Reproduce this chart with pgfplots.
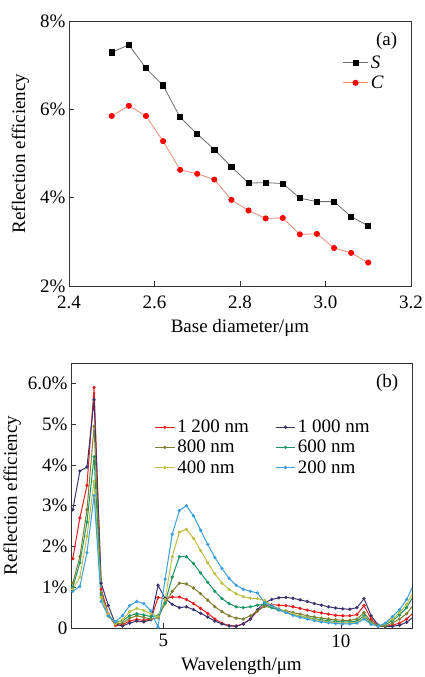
\documentclass[border=0pt]{standalone}
\usepackage{fontspec}
\setmainfont{Liberation Serif}
\usepackage{pgfplots}
\pgfplotsset{compat=1.18}
\definecolor{cA}{RGB}{230,30,30}
\definecolor{cB}{RGB}{60,50,110}
\definecolor{cC}{RGB}{128,128,50}
\definecolor{cD}{RGB}{30,150,100}
\definecolor{cE}{RGB}{190,190,70}
\definecolor{cF}{RGB}{60,160,220}
\definecolor{sline}{RGB}{110,110,110}
\definecolor{cline}{RGB}{240,140,120}
\begin{document}
\begin{tikzpicture}[font=\fontsize{19}{21}\selectfont]
\pgfplotsset{
  every axis/.append style={scale only axis, axis line style={black!80, line width=0.9pt},
    tick style={black!80, line width=0.8pt}, major tick length=5pt,
    xtick pos=bottom, ytick pos=left, tick align=inside,
    ticklabel style={font=\fontsize{19}{21}\selectfont},
    label style={font=\fontsize{19}{21}\selectfont}},
}
% ---------- (a) ----------
\begin{axis}[
  at={(69pt,391pt)}, anchor=south west,
  width=342pt, height=265pt,
  xmin=2.4, xmax=3.2, ymin=2, ymax=8,
  xtick={2.4,2.6,2.8,3.0,3.2}, xticklabels={2.4,2.6,2.8,3.0,3.2},
  ytick={2,4,6,8}, yticklabels={2\%,4\%,6\%,8\%},
  xticklabel style={yshift=-6pt},
  xlabel={Base diameter/μm}, ylabel={Reflection efficiency},
  xlabel style={yshift=-4pt},
  ylabel style={yshift=4pt},
  legend style={draw=none, fill=none, at={(0.79,0.885)}, anchor=north west,
    row sep=2pt, font=\fontsize{19}{21}\selectfont},
  legend image code/.code={\draw[mark repeat=2,mark phase=2] plot coordinates {(0cm,0cm)(0.45cm,0cm)(0.9cm,0cm)};},
  legend cell align=left,
  clip=false,
]
\addplot[sline, line width=0.8pt, mark=square*, mark size=2.6pt, mark options={black, fill=black}]
coordinates {(2.50,7.29)(2.54,7.46)(2.58,6.93)(2.62,6.54)(2.66,5.82)(2.70,5.44)(2.74,5.09)(2.78,4.70)(2.82,4.33)(2.86,4.34)(2.90,4.32)(2.94,3.99)(2.98,3.91)(3.02,3.91)(3.06,3.57)(3.10,3.36)};
\addlegendentry{\textit{S}}
\addplot[cline, line width=0.8pt, mark=*, mark size=2.6pt, mark options={red, fill=red}]
coordinates {(2.50,5.85)(2.54,6.08)(2.58,5.85)(2.62,5.28)(2.66,4.63)(2.70,4.54)(2.74,4.41)(2.78,3.95)(2.82,3.71)(2.86,3.53)(2.90,3.54)(2.94,3.17)(2.98,3.18)(3.02,2.86)(3.06,2.75)(3.10,2.53)};
\addlegendentry{\textit{C}}
\node[anchor=north east] at (rel axis cs:0.97,0.97) {(a)};
\end{axis}
% ---------- (b) ----------
\begin{axis}[
  at={(71pt,49pt)}, anchor=south west,
  width=341pt, height=265pt,
  xmin=2.4, xmax=12, ymin=0, ymax=6.5,
  xtick={5,10}, xticklabels={5,10},
  xticklabel style={yshift=-3pt},
  ytick={0,1,2,3,4,5,6}, yticklabels={0,1\%,2\%,3\%,4\%,5\%,6.0\%},
  xlabel={Wavelength/μm}, ylabel={Reflection efficiency},
  xlabel style={yshift=-3pt},
  legend columns=2,
  legend style={draw=none, fill=none, at={(0.235,0.80)}, anchor=north west,
    row sep=2pt, font=\fontsize{19}{21}\selectfont,
    /tikz/every even column/.append style={column sep=24pt}},
  legend image code/.code={\draw[mark repeat=2,mark phase=2] plot coordinates {(0cm,0cm)(0.35cm,0cm)(0.7cm,0cm)};},
  legend cell align=left,
  every axis plot/.append style={line width=1pt, mark=*, mark size=1.1pt},
]
\addplot[cA, mark options={cA}] coordinates {
(2.45,1.7)(2.65,2.7)(2.85,3.5)(3.05,5.9)(3.25,0.95)(3.45,0.35)(3.65,0.06)(3.85,0.08)(4.05,0.17)(4.25,0.21)(4.45,0.19)(4.65,0.22)(4.85,0.75)(5.05,0.72)(5.25,0.76)(5.45,0.76)(5.65,0.7)(5.85,0.6)(6.05,0.48)(6.25,0.36)(6.45,0.22)(6.65,0.12)(6.85,0.06)(7.05,0.05)(7.25,0.1)(7.45,0.22)(7.65,0.42)(7.85,0.55)(8.05,0.57)(8.25,0.56)(8.45,0.55)(8.65,0.52)(8.85,0.48)(9.05,0.44)(9.25,0.4)(9.45,0.37)(9.65,0.34)(9.85,0.31)(10.05,0.3)(10.25,0.3)(10.45,0.33)(10.65,0.55)(10.85,0.22)(11.05,0.05)(11.25,0.04)(11.45,0.07)(11.65,0.12)(11.85,0.22)(12.05,0.38)};
\addlegendentry{1 200 nm}
\addplot[cB, mark options={cB}] coordinates {
(2.45,2.9)(2.65,3.85)(2.85,3.95)(3.05,5.6)(3.25,1.1)(3.45,0.55)(3.65,0.1)(3.85,0.05)(4.05,0.12)(4.25,0.17)(4.45,0.15)(4.65,0.2)(4.85,1.05)(5.05,0.72)(5.25,0.58)(5.45,0.5)(5.65,0.52)(5.85,0.45)(6.05,0.36)(6.25,0.27)(6.45,0.17)(6.65,0.1)(6.85,0.05)(7.05,0.04)(7.25,0.1)(7.45,0.22)(7.65,0.45)(7.85,0.62)(8.05,0.7)(8.25,0.74)(8.45,0.75)(8.65,0.73)(8.85,0.69)(9.05,0.65)(9.25,0.6)(9.45,0.56)(9.65,0.52)(9.85,0.49)(10.05,0.47)(10.25,0.46)(10.45,0.5)(10.65,0.72)(10.85,0.3)(11.05,0.07)(11.25,0.03)(11.45,0.04)(11.65,0.07)(11.85,0.14)(12.05,0.28)};
\addlegendentry{1 000 nm}
\addplot[cC, mark options={cC}] coordinates {
(2.45,1.1)(2.65,1.75)(2.85,2.9)(3.05,4.95)(3.25,0.85)(3.45,0.3)(3.65,0.1)(3.85,0.12)(4.05,0.24)(4.25,0.3)(4.45,0.26)(4.65,0.22)(4.85,0.25)(5.05,0.6)(5.25,0.9)(5.45,1.1)(5.65,1.08)(5.85,0.98)(6.05,0.84)(6.25,0.68)(6.45,0.52)(6.65,0.4)(6.85,0.3)(7.05,0.24)(7.25,0.22)(7.45,0.3)(7.65,0.42)(7.85,0.53)(8.05,0.5)(8.25,0.45)(8.45,0.42)(8.65,0.38)(8.85,0.34)(9.05,0.3)(9.25,0.27)(9.45,0.24)(9.65,0.22)(9.85,0.2)(10.05,0.19)(10.25,0.19)(10.45,0.22)(10.65,0.38)(10.85,0.15)(11.05,0.04)(11.25,0.05)(11.45,0.12)(11.65,0.22)(11.85,0.35)(12.05,0.58)};
\addlegendentry{800 nm}
\addplot[cD, mark options={cD}] coordinates {
(2.45,1.0)(2.65,1.6)(2.85,2.6)(3.05,4.2)(3.25,0.8)(3.45,0.3)(3.65,0.14)(3.85,0.18)(4.05,0.3)(4.25,0.35)(4.45,0.32)(4.65,0.28)(4.85,0.3)(5.05,0.62)(5.25,1.25)(5.45,1.75)(5.65,1.75)(5.85,1.58)(6.05,1.35)(6.25,1.12)(6.45,0.9)(6.65,0.72)(6.85,0.6)(7.05,0.52)(7.25,0.5)(7.45,0.52)(7.65,0.56)(7.85,0.58)(8.05,0.5)(8.25,0.44)(8.45,0.38)(8.65,0.33)(8.85,0.29)(9.05,0.26)(9.25,0.23)(9.45,0.2)(9.65,0.18)(9.85,0.16)(10.05,0.15)(10.25,0.15)(10.45,0.17)(10.65,0.3)(10.85,0.12)(11.05,0.05)(11.25,0.08)(11.45,0.18)(11.65,0.32)(11.85,0.5)(12.05,0.8)};
\addlegendentry{600 nm}
\addplot[cE, mark options={cE}] coordinates {
(2.45,0.95)(2.65,1.25)(2.85,2.25)(3.05,3.6)(3.25,0.75)(3.45,0.35)(3.65,0.1)(3.85,0.2)(4.05,0.4)(4.25,0.48)(4.45,0.43)(4.65,0.35)(4.85,0.28)(5.05,0.7)(5.25,1.75)(5.45,2.35)(5.65,2.42)(5.85,2.2)(6.05,1.9)(6.25,1.6)(6.45,1.33)(6.65,1.1)(6.85,0.95)(7.05,0.84)(7.25,0.77)(7.45,0.73)(7.65,0.72)(7.85,0.68)(8.05,0.55)(8.25,0.47)(8.45,0.4)(8.65,0.34)(8.85,0.29)(9.05,0.25)(9.25,0.21)(9.45,0.18)(9.65,0.15)(9.85,0.13)(10.05,0.12)(10.25,0.12)(10.45,0.14)(10.65,0.25)(10.85,0.1)(11.05,0.05)(11.25,0.1)(11.45,0.22)(11.65,0.38)(11.85,0.58)(12.05,0.9)};
\addlegendentry{400 nm}
\addplot[cF, mark options={cF}] coordinates {
(2.45,0.9)(2.65,1.02)(2.85,1.85)(3.05,3.25)(3.25,0.65)(3.45,0.3)(3.65,0.15)(3.85,0.3)(4.05,0.55)(4.25,0.65)(4.45,0.6)(4.65,0.42)(4.85,0.02)(5.05,1.2)(5.25,2.3)(5.45,2.88)(5.65,3.0)(5.85,2.75)(6.05,2.4)(6.25,2.05)(6.45,1.73)(6.65,1.46)(6.85,1.22)(7.05,1.05)(7.25,0.95)(7.45,0.9)(7.65,0.86)(7.85,0.62)(8.05,0.55)(8.25,0.46)(8.45,0.38)(8.65,0.31)(8.85,0.26)(9.05,0.22)(9.25,0.18)(9.45,0.15)(9.65,0.13)(9.85,0.11)(10.05,0.1)(10.25,0.1)(10.45,0.12)(10.65,0.22)(10.85,0.09)(11.05,0.05)(11.25,0.12)(11.45,0.28)(11.65,0.45)(11.85,0.7)(12.05,1.08)};
\addlegendentry{200 nm}
\node[anchor=north east] at (rel axis cs:0.97,0.97) {(b)};
\end{axis}
\pgfresetboundingbox
\path[use as bounding box] (0,0) rectangle (424pt,677pt);
\end{tikzpicture}
\end{document}
